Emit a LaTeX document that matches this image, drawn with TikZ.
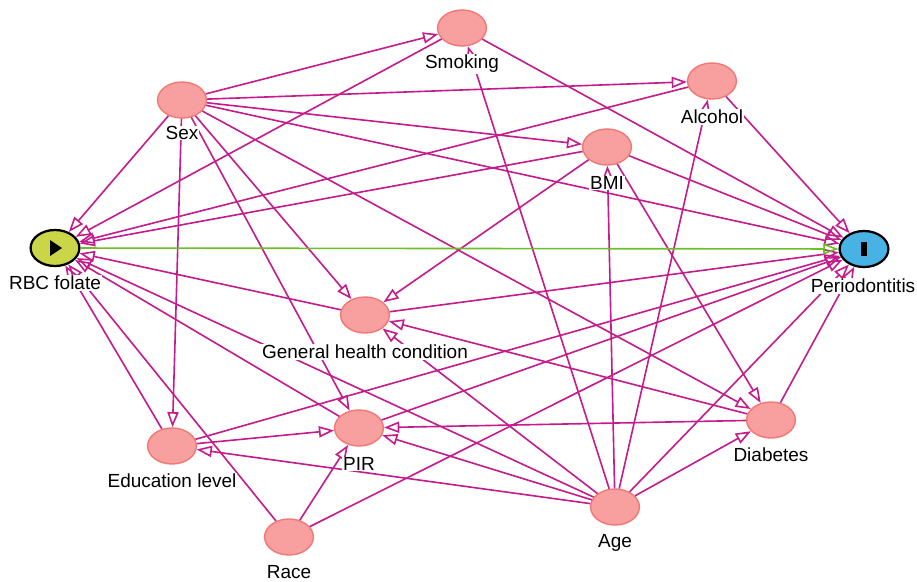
\documentclass[tikz,border=0pt]{standalone}
\usepackage{fontspec}
\setmainfont{Liberation Sans}
\usetikzlibrary{shapes.geometric,arrows.meta}

\definecolor{arccol}{RGB}{196,28,140}
\definecolor{varfill}{RGB}{248,160,160}
\definecolor{varline}{RGB}{242,120,115}
\definecolor{expfill}{RGB}{202,214,72}
\definecolor{outfill}{RGB}{72,178,228}
\definecolor{causal}{RGB}{110,190,40}

\tikzset{
  var/.style={ellipse, draw=varline, fill=varfill, line width=1pt,
    minimum width=1.22cm, minimum height=0.9cm, inner sep=0pt},
  expvar/.style={var, draw=black, fill=expfill, line width=1.6pt},
  outvar/.style={var, draw=black, fill=outfill, line width=1.6pt},
  arc/.style={draw=arccol, line width=1.15pt,
    -{Triangle[open, length=0.38cm, width=0.28cm]}},
  lab/.style={fill=white, inner sep=0.5pt, font=\fontsize{13.5}{15}\selectfont}
}

\begin{document}
\begin{tikzpicture}[x=0.025cm, y=-0.025cm]
    \useasboundingbox (0,0) rectangle (917,581);

    % variables
    \node[var] (smk) at (462, 28) {};
    \node[var] (alc) at (712, 81) {};
    \node[var] (sex) at (182, 100) {};
    \node[var] (bmi) at (607, 147) {};
    \node[expvar] (rbc) at (55, 248) {};
    \node[outvar] (per) at (864, 249) {};
    \node[var] (gh) at (365, 315) {};
    \node[var] (edu) at (172, 446) {};
    \node[var] (pir) at (359, 428) {};
    \node[var] (dia) at (771, 420) {};
    \node[var] (age) at (615, 507) {};
    \node[var] (race) at (289, 537) {};

    % sex
    \draw[arc] (sex) -- (smk);
    \draw[arc] (sex) -- (alc);
    \draw[arc] (sex) -- (bmi);
    \draw[arc] (sex) -- (rbc);
    \draw[arc] (sex) -- (per);
    \draw[arc] (sex) -- (gh);
    \draw[arc] (sex) -- (edu);
    \draw[arc] (sex) -- (pir);
    \draw[arc] (sex) -- (dia);

    % smoking, alcohol, bmi
    \draw[arc] (smk) -- (rbc);
    \draw[arc] (smk) -- (per);
    \draw[arc] (alc) -- (rbc);
    \draw[arc] (alc) -- (per);
    \draw[arc] (bmi) -- (rbc);
    \draw[arc] (bmi) -- (gh);
    \draw[arc] (bmi) -- (per);
    \draw[arc] (bmi) -- (dia);

    % age
    \draw[arc] (age) -- (smk);
    \draw[arc] (age) -- (alc);
    \draw[arc] (age) -- (bmi);
    \draw[arc] (age) -- (rbc);
    \draw[arc] (age) -- (per);
    \draw[arc] (age) -- (dia);
    \draw[arc] (age) -- (pir);
    \draw[arc] (age) -- (edu);
    \draw[arc] (age) -- (gh);

    % race, education, pir
    \draw[arc] (race) -- (rbc);
    \draw[arc] (race) -- (pir);
    \draw[arc] (race) -- (per);
    \draw[arc] (edu) -- (rbc);
    \draw[arc] (edu) -- (pir);
    \draw[arc] (edu) -- (per);
    \draw[arc] (pir) -- (rbc);
    \draw[arc] (pir) -- (per);

    % general health, diabetes
    \draw[arc] (gh) -- (rbc);
    \draw[arc] (gh) -- (per);
    \draw[arc] (dia) -- (gh);
    \draw[arc] (dia) -- (pir);
    \draw[arc] (dia) -- (per);

    % causal path
    \draw[arc, draw=causal] (rbc) -- (per);

    % exposure and outcome marks
    \fill ([shift={(-5,-8)}]rbc.center) -- ([shift={(7,0)}]rbc.center)
        -- ([shift={(-5,8)}]rbc.center) -- cycle;
    \fill ([shift={(-3,-7)}]per.center) rectangle ([shift={(3,7)}]per.center);

    % labels
    \node[lab] (smkl) at (462, 64) {Smoking};
    \node[lab] (alcl) at (712, 117) {Alcohol};
    \node[lab] (sexl) at (182, 133) {Sex};
    \node[lab] (bmil) at (607, 183) {BMI};
    \node[lab] (rbcl) at (55, 283) {RBC folate};
    \node[lab] (perl) at (863, 286) {Periodontitis};
    \node[lab] (ghl) at (365, 352) {General health condition};
    \node[lab] (edul) at (172, 481) {Education level};
    \node[lab] (pirl) at (359, 464) {PIR};
    \node[lab] (dial) at (771, 455) {Diabetes};
    \node[lab] (agel) at (615, 543) {Age};
    \node[lab] (racel) at (289, 572) {Race};
\end{tikzpicture}
\end{document}
